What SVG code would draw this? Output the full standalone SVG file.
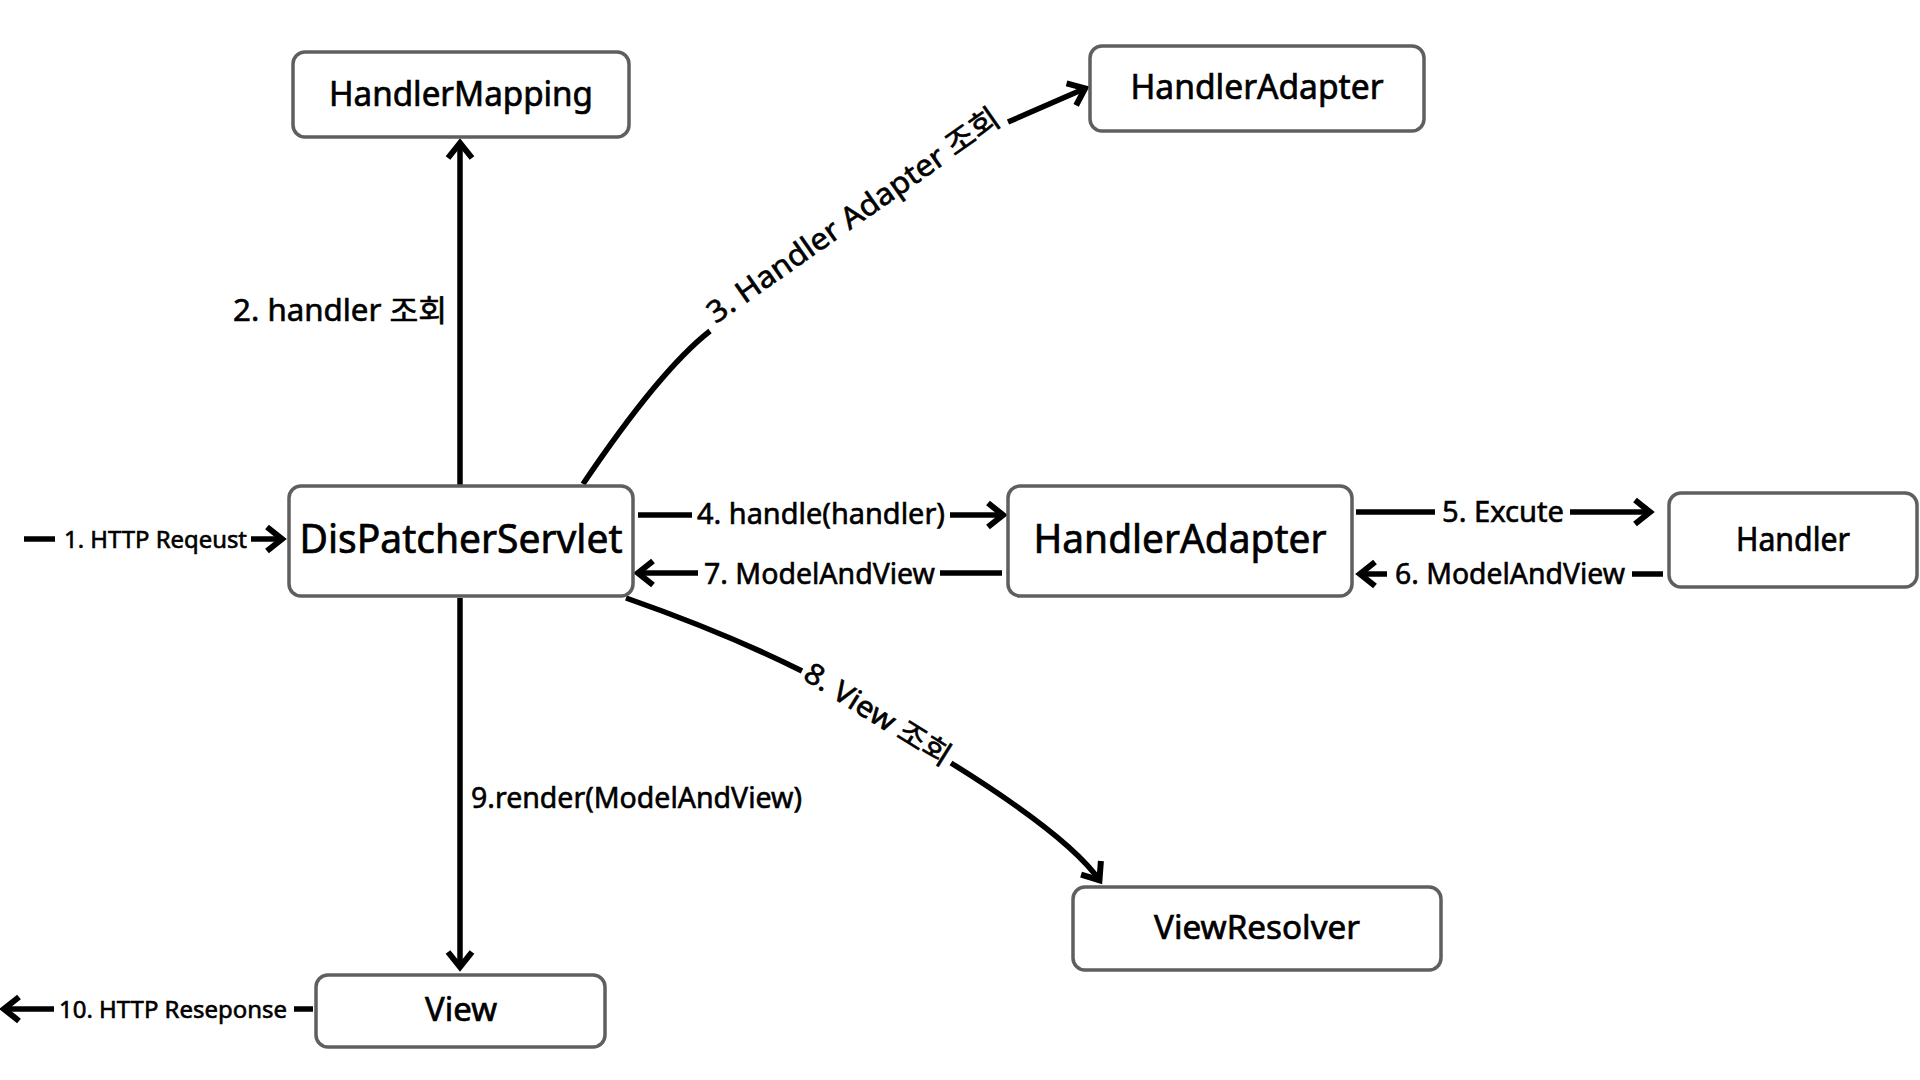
<svg xmlns="http://www.w3.org/2000/svg" width="1920" height="1080" viewBox="0 0 1920 1080">
<defs>
<style>
.box{fill:#fff;stroke:#5f5f5f;stroke-width:3.5}
.nt{font-family:"Noto Sans","Noto Sans CJK KR",sans-serif;fill:#000;text-anchor:middle;stroke:#000;stroke-width:0.7}
.lb{font-family:"Noto Sans","Noto Sans CJK KR",sans-serif;fill:#000;font-size:29px;stroke:#000;stroke-width:0.6}
.sm{font-size:24px}
.ln{fill:none;stroke:#000;stroke-width:5.5}
</style>
<marker id="ah" markerUnits="userSpaceOnUse" viewBox="0 0 26 30" markerWidth="26" markerHeight="30" refX="21" refY="15" orient="auto">
<path d="M5,3 L20,15 L5,27" fill="none" stroke="#000" stroke-width="6" stroke-linejoin="miter"/>
</marker>
</defs>
<rect width="1920" height="1080" fill="#fff"/>

<g id="connectors">
<!-- 1 -->
<line class="ln" x1="24" y1="539" x2="55" y2="539"/>
<line class="ln" x1="251" y1="539" x2="283" y2="539" marker-end="url(#ah)"/>
<text class="lb sm" x="64" y="547.5" textLength="183" lengthAdjust="spacingAndGlyphs">1. HTTP Reqeust</text>
<!-- 2 -->
<line class="ln" x1="460" y1="486" x2="460" y2="142" marker-end="url(#ah)"/>
<text class="lb" x="233" y="321" textLength="214" lengthAdjust="spacingAndGlyphs" style="font-size:30px">2. handler 조회</text>
<!-- 3 -->
<path class="ln" d="M583,484 Q660,370 710,331"/>
<line class="ln" x1="1008" y1="122" x2="1086" y2="88" marker-end="url(#ah)"/>
<text class="lb" x="853" y="215" text-anchor="middle" dy="0.36em" transform="rotate(-35 853 215)" textLength="350" lengthAdjust="spacingAndGlyphs" style="font-size:30px">3. Handler Adapter 조회</text>
<!-- 4 -->
<line class="ln" x1="638" y1="515" x2="692" y2="515"/>
<line class="ln" x1="950" y1="515" x2="1004" y2="515" marker-end="url(#ah)"/>
<text class="lb" x="697" y="524" textLength="248" lengthAdjust="spacingAndGlyphs">4. handle(handler)</text>
<!-- 5 -->
<line class="ln" x1="1356" y1="512" x2="1435" y2="512"/>
<line class="ln" x1="1570" y1="512" x2="1651" y2="512" marker-end="url(#ah)"/>
<text class="lb" x="1442" y="522" textLength="122" lengthAdjust="spacingAndGlyphs">5. Excute</text>
<!-- 6 -->
<line class="ln" x1="1663" y1="574" x2="1632" y2="574"/>
<line class="ln" x1="1387" y1="574" x2="1359" y2="574" marker-end="url(#ah)"/>
<text class="lb" x="1395" y="584" textLength="230" lengthAdjust="spacingAndGlyphs">6. ModelAndView</text>
<!-- 7 -->
<line class="ln" x1="1002" y1="573" x2="940" y2="573"/>
<line class="ln" x1="698" y1="573" x2="637" y2="573" marker-end="url(#ah)"/>
<text class="lb" x="704" y="584" textLength="231" lengthAdjust="spacingAndGlyphs">7. ModelAndView</text>
<!-- 8 -->
<path class="ln" d="M626,598 Q726,633 802,671"/>
<path class="ln" d="M951,763 Q1070,837 1100,881" marker-end="url(#ah)"/>
<text class="lb" x="878" y="714" text-anchor="middle" dy="0.36em" transform="rotate(32 878 714)" textLength="167" lengthAdjust="spacingAndGlyphs">8. View 조회</text>
<!-- 9 -->
<line class="ln" x1="460" y1="598" x2="460" y2="968" marker-end="url(#ah)"/>
<text class="lb" x="471" y="808" textLength="331" lengthAdjust="spacingAndGlyphs">9.render(ModelAndView)</text>
<!-- 10 -->
<line class="ln" x1="313" y1="1009" x2="294" y2="1009"/>
<line class="ln" x1="54" y1="1009" x2="3" y2="1009" marker-end="url(#ah)"/>
<text class="lb sm" x="59" y="1017.5" textLength="228" lengthAdjust="spacingAndGlyphs">10. HTTP Reseponse</text>
</g>

<g id="handlerMapping">
<rect class="box" x="293" y="52" width="336" height="85" rx="12"/>
<text class="nt" x="461" y="106" font-size="34" textLength="264" lengthAdjust="spacingAndGlyphs">HandlerMapping</text>
</g>
<g id="handlerAdapterTop">
<rect class="box" x="1090" y="46" width="334" height="85" rx="12"/>
<text class="nt" x="1257" y="99" font-size="34" textLength="253" lengthAdjust="spacingAndGlyphs">HandlerAdapter</text>
</g>
<g id="dispatcherServlet">
<rect class="box" x="289" y="486" width="344" height="110" rx="12"/>
<text class="nt" x="461" y="553" font-size="40" textLength="323" lengthAdjust="spacingAndGlyphs">DisPatcherServlet</text>
</g>
<g id="handlerAdapter">
<rect class="box" x="1008" y="486" width="344" height="110" rx="12"/>
<text class="nt" x="1180" y="553" font-size="40" textLength="293" lengthAdjust="spacingAndGlyphs">HandlerAdapter</text>
</g>
<g id="handler">
<rect class="box" x="1669" y="493" width="248" height="94" rx="12"/>
<text class="nt" x="1793" y="550.5" font-size="32" textLength="114" lengthAdjust="spacingAndGlyphs">Handler</text>
</g>
<g id="viewResolver">
<rect class="box" x="1073" y="887" width="368" height="83" rx="12"/>
<text class="nt" x="1257" y="939" font-size="33" textLength="206" lengthAdjust="spacingAndGlyphs">ViewResolver</text>
</g>
<g id="view">
<rect class="box" x="316" y="975" width="289" height="72" rx="12"/>
<text class="nt" x="461" y="1021" font-size="33" textLength="72" lengthAdjust="spacingAndGlyphs">View</text>
</g>
</svg>
